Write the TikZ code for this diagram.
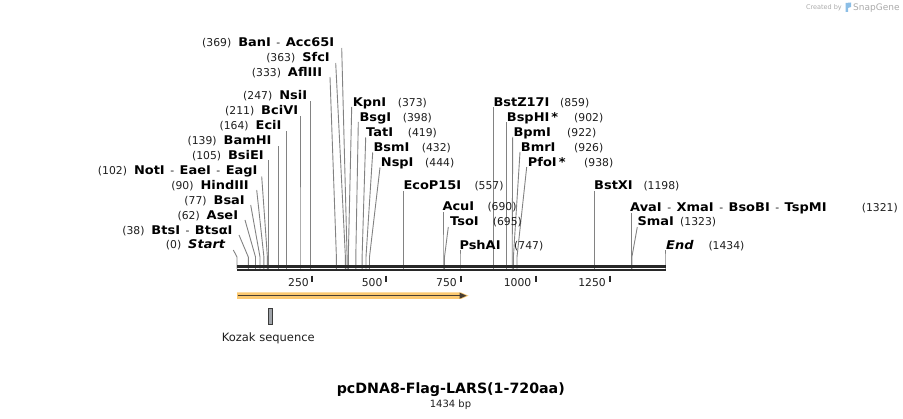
\documentclass[tikz,border=0pt]{standalone}
\usepackage{fontspec}
\setmainfont{DejaVu Sans}
\newfontfamily\enzfont{DejaVu Sans}[FakeStretch=1.08]
\definecolor{cutgray}{RGB}{130,130,130}
\definecolor{numgray}{RGB}{30,30,30}
\definecolor{seqdark}{RGB}{40,40,40}
\definecolor{featorange}{RGB}{252,201,112}
\definecolor{featdark}{RGB}{72,62,50}
\definecolor{kozgray}{RGB}{160,164,170}
\definecolor{kozdark}{RGB}{60,60,60}
\definecolor{logogray}{RGB}{170,170,170}
\definecolor{logoblue}{RGB}{140,190,230}
\newcommand\nm{\normalfont\fontsize{10.8}{12}\selectfont\color{numgray}}
\newcommand\hy{\hspace{5.5pt}{\nm-}\hspace{5.5pt}}
\newcommand\cutsite[4]{%
  \coordinate (s#1) at (#2,269);
  \coordinate (b#1) at (#2,257);
  \coordinate (t#1) at (#3,#4);
  \draw[cut] (s#1) -- (b#1) -- (t#1);}
\begin{document}
\begin{tikzpicture}[x=1pt,y=-1pt,
  cut/.style={draw=cutgray, line width=0.9pt},
  enz/.style={inner sep=0pt, font=\enzfont\bfseries\fontsize{12}{13}\selectfont, text=black},
  num/.style={inner sep=0pt, font=\fontsize{10.8}{12}\selectfont, text=numgray},
  seqline/.style={draw=seqdark},
  tickmark/.style={draw=seqdark, line width=2pt},
]
\useasboundingbox (0,0) rectangle (903,419);

% cut-site connectors
\cutsite{Start}{237.0}{233.3}{250}
\cutsite{BtsI}{248.3}{239}{235}
\cutsite{AseI}{255.5}{245}{220}
\cutsite{BsaI}{260.0}{250.7}{205}
\cutsite{HindIII}{263.9}{256.7}{190}
\cutsite{NotI}{267.4}{261.7}{176.5}
\cutsite{BsiEI}{268.3}{268.3}{160}
\cutsite{BamHI}{278.5}{278.5}{146}
\cutsite{EciI}{286.3}{286.3}{131}
\cutsite{BciVI}{300.0}{300.0}{116}
\cutsite{NsiI}{310.9}{310.9}{101.5}
\cutsite{AflIII}{336.4}{330}{77}
\cutsite{SfcI}{345.4}{335.7}{63}
\cutsite{BanI}{347.1}{341.7}{48}
\cutsite{KpnI}{348.3}{351.7}{107}
\cutsite{BsgI}{355.8}{358.3}{122}
\cutsite{TatI}{362.1}{365.7}{137.5}
\cutsite{BsmI}{366.0}{372.7}{152.5}
\cutsite{NspI}{369.5}{380}{167.5}
\cutsite{EcoP}{403.3}{403.3}{191}
\cutsite{AcuI}{443.0}{443.0}{212.5}
\cutsite{TsoI}{444.5}{448.3}{227}
\cutsite{PshAI}{460.0}{460.0}{250}
\cutsite{BstZ}{493.4}{493.4}{107}
\cutsite{BspHI}{506.2}{506.2}{122}
\cutsite{BpmI}{512.2}{512.7}{137}
\cutsite{BmrI}{513.4}{520}{152}
\cutsite{PfoI}{517.0}{526.7}{167}
\cutsite{BstXI}{594.6}{594.6}{191}
\cutsite{AvaI}{631.3}{631.3}{213}
\cutsite{SmaI}{631.9}{637.3}{227}
\cutsite{End}{665.0}{665.0}{250}

% left labels
\node[enz, anchor=base east] (lBanI) at (334.3,47) {{\nm(369)}\hspace{7pt}BanI\hy Acc65I};
\node[enz, anchor=base east] (lSfcI) at (330,62) {{\nm(363)}\hspace{7pt}SfcI};
\node[enz, anchor=base east] (lAflIII) at (322.3,77) {{\nm(333)}\hspace{7pt}AflIII};
\node[enz, anchor=base east] (lNsiI) at (307.3,100) {{\nm(247)}\hspace{7pt}NsiI};
\node[enz, anchor=base east] (lBciVI) at (298.3,114.5) {{\nm(211)}\hspace{7pt}BciVI};
\node[enz, anchor=base east] (lEciI) at (281.7,129.5) {{\nm(164)}\hspace{7pt}EciI};
\node[enz, anchor=base east] (lBamHI) at (271.7,144.5) {{\nm(139)}\hspace{7pt}BamHI};
\node[enz, anchor=base east] (lBsiEI) at (264,159.5) {{\nm(105)}\hspace{7pt}BsiEI};
\node[enz, anchor=base east] (lNotI) at (257.7,174.5) {{\nm(102)}\hspace{7pt}NotI\hy EaeI\hy EagI};
\node[enz, anchor=base east] (lHindIII) at (249,189.5) {{\nm(90)}\hspace{7pt}HindIII};
\node[enz, anchor=base east] (lBsaI) at (245,204.5) {{\nm(77)}\hspace{7pt}BsaI};
\node[enz, anchor=base east] (lAseI) at (238.3,219.5) {{\nm(62)}\hspace{7pt}AseI};
\node[enz, anchor=base east] (lBtsI) at (232.7,234.5) {{\nm(38)}\hspace{7pt}BtsI\hy BtsαI};
\node[enz, anchor=base east] (lStart) at (225.7,249) {{\nm(0)}\hspace{7pt}\textit{Start}};

% middle and right labels
\node[enz, anchor=base west] (lKpnI) at (352.7,106.7) {KpnI};
\node[num, anchor=base west] (nKpnI) at (397.7,106.7) {(373)};
\node[enz, anchor=base west] (lBsgI) at (359.3,121.5) {BsgI};
\node[num, anchor=base west] (nBsgI) at (402.7,121.5) {(398)};
\node[enz, anchor=base west] (lTatI) at (366,136.5) {TatI};
\node[num, anchor=base west] (nTatI) at (407.7,136.5) {(419)};
\node[enz, anchor=base west] (lBsmI) at (373.3,151.5) {BsmI};
\node[num, anchor=base west] (nBsmI) at (421.7,151.5) {(432)};
\node[enz, anchor=base west] (lNspI) at (380.7,166.5) {NspI};
\node[num, anchor=base west] (nNspI) at (425,166.5) {(444)};
\node[enz, anchor=base west] (lEcoP) at (403.3,189.5) {EcoP15I};
\node[num, anchor=base west] (nEcoP) at (474.3,189.5) {(557)};
\node[enz, anchor=base west] (lAcuI) at (442.3,211) {AcuI};
\node[num, anchor=base west] (nAcuI) at (487.3,211) {(690)};
\node[enz, anchor=base west] (lTsoI) at (450,226) {TsoI};
\node[num, anchor=base west] (nTsoI) at (492.7,226) {(695)};
\node[enz, anchor=base west] (lPshAI) at (459.3,249.5) {PshAI};
\node[num, anchor=base west] (nPshAI) at (514,249.5) {(747)};
\node[enz, anchor=base west] (lBstZ) at (493.3,106.7) {BstZ17I};
\node[num, anchor=base west] (nBstZ) at (560,106.7) {(859)};
\node[enz, anchor=base west] (lBspHI) at (506.7,121.5) {BspHI\hspace{2pt}*};
\node[num, anchor=base west] (nBspHI) at (574,121.5) {(902)};
\node[enz, anchor=base west] (lBpmI) at (513.3,136.5) {BpmI};
\node[num, anchor=base west] (nBpmI) at (567,136.5) {(922)};
\node[enz, anchor=base west] (lBmrI) at (520.7,151.5) {BmrI};
\node[num, anchor=base west] (nBmrI) at (574,151.5) {(926)};
\node[enz, anchor=base west] (lPfoI) at (527.7,166.5) {PfoI\hspace{2pt}*};
\node[num, anchor=base west] (nPfoI) at (584,166.5) {(938)};
\node[enz, anchor=base west] (lBstXI) at (594,189.5) {BstXI};
\node[num, anchor=base west] (nBstXI) at (643.3,189.5) {(1198)};
\node[enz, anchor=base west] (lAvaI) at (630,211.5) {AvaI\hy XmaI\hy BsoBI\hy TspMI};
\node[num, anchor=base west] (nAvaI) at (861.7,211.5) {(1321)};
\node[enz, anchor=base west] (lSmaI) at (637.3,226) {SmaI};
\node[num, anchor=base west] (nSmaI) at (680,226) {(1323)};
\node[enz, anchor=base west] (lEnd) at (666,249.5) {\textit{End}};
\node[num, anchor=base west] (nEnd) at (708.3,249.5) {(1434)};

% sequence
\coordinate (seqL) at (237,270.2);
\coordinate (seqR) at (665.7,270.2);
\draw[seqline, line width=2.3pt] (seqL) -- (seqR);
\draw[seqline, line width=3pt] ([yshift=4pt]seqL) -- ([yshift=4pt]seqR);

% ticks
\foreach \p/\t/\lx in {311.6/250/309, 386.2/500/382.6, 460.9/750/457, 535.5/1000/531.5, 610.2/1250/606}{
  \draw[tickmark] (\p,275.7) -- (\p,282.3);
  \node[num, anchor=base east] at (\lx,286.5) {\t};
}

% feature arrow
\fill[featorange] (237,292.5) -- (461,292.5) -- (468.5,295.7) -- (461,299) -- (237,299) -- cycle;
\draw[featdark, line width=1.4pt] (237.5,295.7) -- (461,295.7);
\fill[featdark] (459.5,292.6) -- (466.5,295.7) -- (459.5,298.8) -- cycle;

% Kozak
\draw[fill=kozgray, draw=kozdark, line width=0.7pt] (268.3,308.3) rectangle (272,324.3);
\node[inner sep=0pt, font=\fontsize{11.5}{13}\selectfont, text=numgray] (koz) at (268.3,338.3) {Kozak sequence};

% title
\node[inner sep=0pt, font=\bfseries\fontsize{14.2}{16}\selectfont, anchor=base] (title) at (450.8,393.3) {pcDNA8-Flag-LARS(1-720aa)};
\node[inner sep=0pt, font=\fontsize{10}{12}\selectfont, anchor=base, text=numgray] (bp) at (450.5,407.5) {1434 bp};

% logo
\node[inner sep=0pt, font=\fontsize{6.5}{8}\selectfont, text=logogray, anchor=base east] (created) at (842,10) {Created by};
\fill[logoblue] (845.5,3) -- (851,2.5) -- (851,7) -- (848,8) -- (848,12) -- (845.5,12) -- cycle;
\node[inner sep=0pt, font=\fontsize{9}{10}\selectfont, text=logogray, anchor=base west] (snap) at (853,10.5) {SnapGene};
\end{tikzpicture}
\end{document}
